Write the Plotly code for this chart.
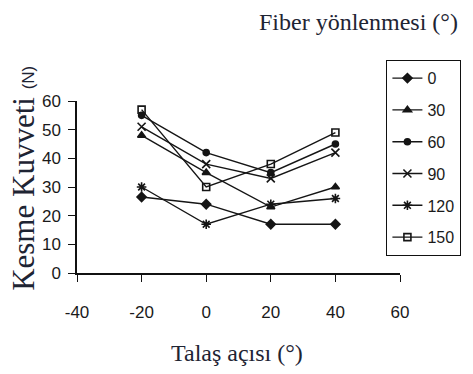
import plotly.graph_objects as go

# Rake angle (Talaş açısı) values on the x axis
rake_angle = [-20, 0, 20, 40]
x_ticks = [-40, -20, 0, 20, 40, 60]
x_tick_text = ["-40", "-20", "0", "20", "40", "60"]
y_ticks = [0, 10, 20, 30, 40, 50, 60]

# Cutting force (N) per fiber orientation
fiber_labels = ["0", "30", "60", "90", "120", "150"]
force_0 = [26.5, 24, 17, 17]
force_30 = [48, 35, 23, 30]
force_60 = [55, 42, 35, 45]
force_90 = [51, 38, 33, 42]
force_120 = [30, 17, 24, 26]
force_150 = [57, 30, 38, 49]

series = [force_0, force_30, force_60, force_90, force_120, force_150]
symbols = ["diamond", "triangle-up", "circle", "x-thin-open", "asterisk-open", "square-open"]
sizes = [7, 7, 6, 8, 8, 7]

W, H = 473, 374
L, R, T, B = 77, 68, 101, 101
pw, ph = W - L - R, H - T - B


def px_x(p):
    return (p - L) / pw


def px_y(p):
    return (H - B - p) / ph


fig = go.Figure()
for i, (lab, ys) in enumerate(zip(fiber_labels, series)):
    fig.add_trace(go.Scatter(
        x=rake_angle, y=ys, name=lab, mode="lines+markers",
        legendgroup=lab,
        line=dict(color="#151515", width=1.4),
        marker=dict(symbol=symbols[i], size=sizes[i], color="#151515",
                    line=dict(color="#151515", width=1.6)),
    ))

tick_font = dict(family="Liberation Sans, Arial, sans-serif", size=17, color="#1a1a1a")
serif = "Liberation Serif, Times New Roman, serif"

fig.update_xaxes(
    range=[-40, 60], tickvals=x_ticks, ticktext=x_tick_text,
    showline=True, linecolor="#111111", linewidth=1.5,
    ticks="outside", ticklen=7, tickcolor="#111111", tickwidth=1.3,
    showgrid=False, zeroline=False, tickfont=tick_font,
    ticklabelstandoff=16,
)
fig.update_yaxes(
    range=[0, 60], tickvals=y_ticks,
    showline=True, linecolor="#111111", linewidth=1.5,
    ticks="outside", ticklen=7, tickcolor="#111111", tickwidth=1.3,
    showgrid=False, zeroline=False, tickfont=tick_font,
    ticklabelstandoff=4,
)

fig.add_annotation(
    text="Kesme Kuvveti <span style='font-family:Liberation Sans, Arial, sans-serif;"
         "font-size:17px'>(N)</span>",
    textangle=-90, showarrow=False,
    xref="paper", yref="paper", x=px_x(22), y=px_y(178),
    xanchor="center", yanchor="middle",
    font=dict(family=serif, size=31, color="#1e2433"),
)
fig.add_annotation(
    text="Talaş açısı (°)", showarrow=False,
    xref="paper", yref="paper", x=px_x(239), y=px_y(353),
    xanchor="center", yanchor="middle",
    font=dict(family=serif, size=24, color="#1e2433"),
)
fig.add_annotation(
    text="Fiber yönlenmesi (°)", showarrow=False,
    xref="paper", yref="paper", x=px_x(363), y=px_y(22),
    xanchor="center", yanchor="middle",
    font=dict(family=serif, size=24, color="#1e2433"),
)

fig.update_layout(
    width=W, height=H,
    margin=dict(l=L, r=R, t=T, b=B),
    paper_bgcolor="white", plot_bgcolor="white",
    showlegend=True,
    legend=dict(
        x=px_x(391), y=px_y(60), xanchor="left", yanchor="top",
        bordercolor="#111111", borderwidth=1.2, bgcolor="white",
        font=dict(family="Liberation Sans, Arial, sans-serif", size=16, color="#1a1a1a"),
        tracegroupgap=8, itemwidth=30, maxheight=400,
    ),
)

fig.write_html("out.html")
